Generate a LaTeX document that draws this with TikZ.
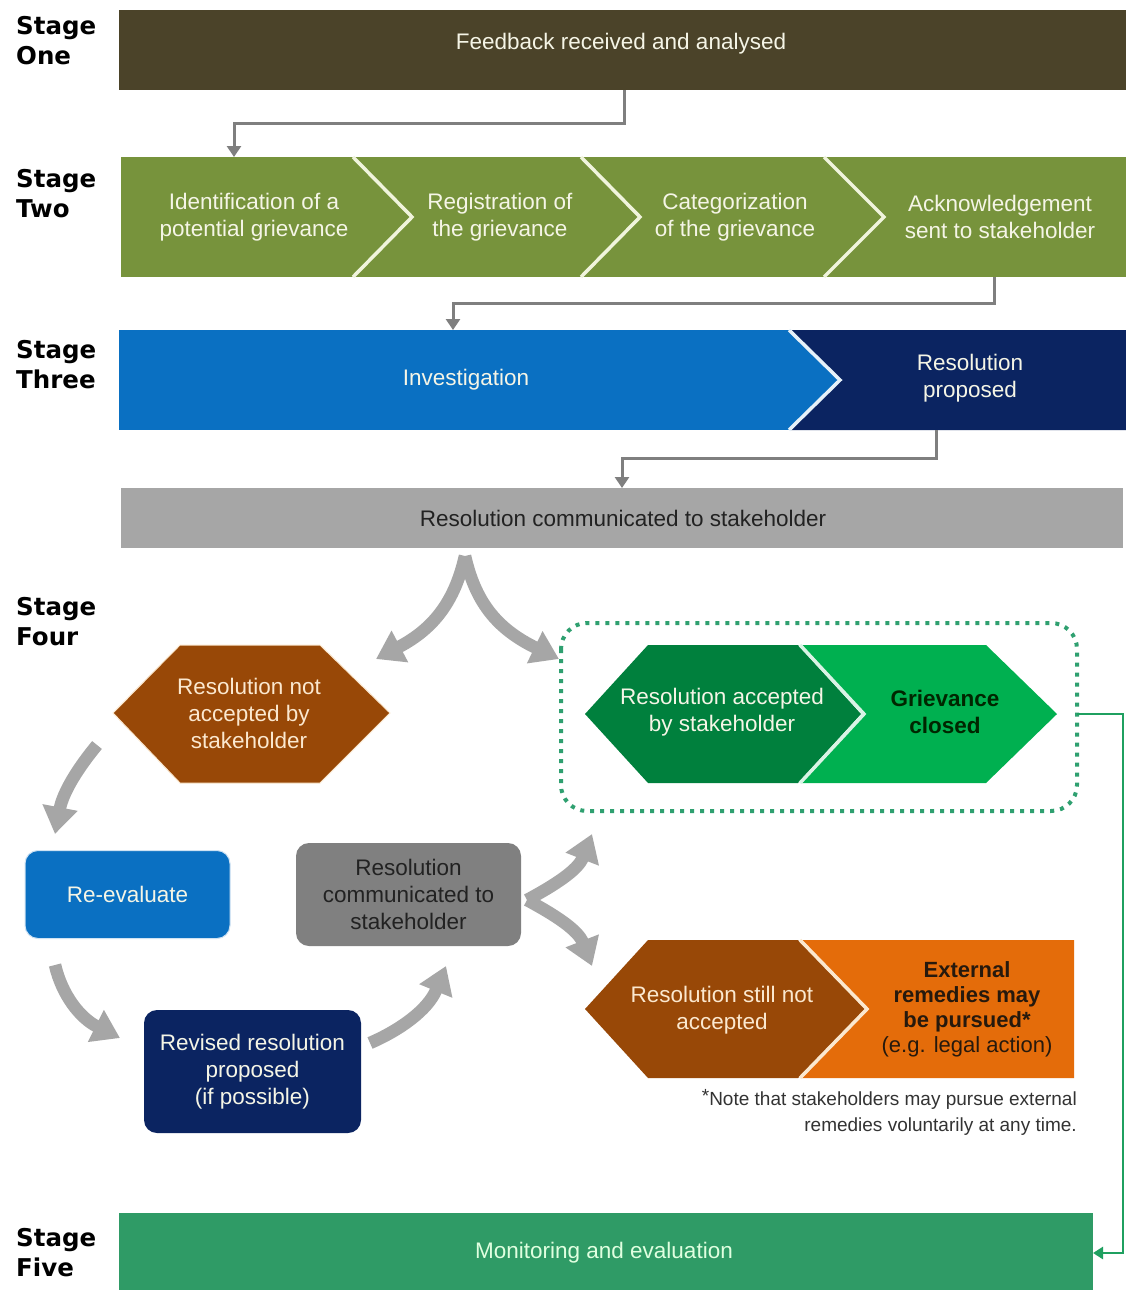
\documentclass[tikz,border=0pt]{standalone}
\usepackage{fontspec}
\setmainfont{Liberation Sans}
\newfontfamily\stagefont{DejaVu Sans}
\usetikzlibrary{arrows.meta}
\definecolor{cOne}{HTML}{4B4329}
\definecolor{cTwo}{HTML}{77933C}
\definecolor{cSepTwo}{HTML}{F0F4DC}
\definecolor{cBlue}{HTML}{0A70C2}
\definecolor{cNavy}{HTML}{0B2461}
\definecolor{cGrayBox}{HTML}{A6A6A6}
\definecolor{cGrayDark}{HTML}{808080}
\definecolor{cConn}{HTML}{7F7F7F}
\definecolor{cBlock}{HTML}{A6A6A6}
\definecolor{cBrown}{HTML}{984807}
\definecolor{cCream}{HTML}{FBE8CF}
\definecolor{cDkGreen}{HTML}{00803D}
\definecolor{cLtGreen}{HTML}{00B050}
\definecolor{cDot}{HTML}{2FA070}
\definecolor{cGreenLine}{HTML}{1FA060}
\definecolor{cOrange}{HTML}{E46C0A}
\definecolor{cFive}{HTML}{2F9B66}
\definecolor{cTxt}{HTML}{F5F5E6}
\definecolor{cDarkTxt}{HTML}{222222}
\begin{document}
\begin{tikzpicture}[x=1pt,y=-1pt,
  txt/.style={text=cTxt, font=\fontsize{22.5}{27}\selectfont, align=center, inner sep=0pt},
  dtxt/.style={txt, text=cDarkTxt},
  stagelbl/.style={font=\stagefont\fontsize{24.5}{30}\selectfont\bfseries, align=left, anchor=west, text=black, inner sep=0pt},
  band/.style={inner sep=0pt, outer sep=0pt},
  rbox/.style={inner sep=0pt, outer sep=0pt, rounded corners=13pt, align=center, font=\fontsize{22.5}{27}\selectfont},
  conn/.style={draw=cConn, line width=3pt, -{Triangle[width=14pt,length=11pt]}},
  blockarrow/.style={draw=cBlock, line width=12.5pt, -{Triangle[width=34pt,length=27pt]}},
  sepline/.style={line width=3.5pt, line join=miter}
]
\useasboundingbox (0,0) rectangle (1126,1290);
\fill[white] (0,0) rectangle (1126,1290);

% Stage labels
\node[stagelbl] (l1) at (16,41) {Stage\\One};
\node[stagelbl] (l2) at (16,194) {Stage\\Two};
\node[stagelbl] (l3) at (16,365) {Stage\\Three};
\node[stagelbl] (l4) at (16,622) {Stage\\Four};
\node[stagelbl] (l5) at (16,1253) {Stage\\Five};

% Stage one
\node[band, fill=cOne, minimum width=1007pt, minimum height=80pt] (s1) at (622.5,50) {};
\node[txt] (t1) at (621,44) {Feedback received and analysed};

% Stage two
\node[band, fill=cTwo, minimum width=1005pt, minimum height=120pt] (s2) at (623.5,217) {};
\draw[sepline, draw=cSepTwo] (353,157) -- (412,217) -- (353,277);
\draw[sepline, draw=cSepTwo] (581,157) -- (640,217) -- (581,277);
\draw[sepline, draw=cSepTwo] (824,157) -- (884,217) -- (824,277);
\node[txt] (t2a) at (254,217) {Identification of a\\potential grievance};
\node[txt] (t2b) at (500,217) {Registration of\\the grievance};
\node[txt] (t2c) at (735,217) {Categorization\\of the grievance};
\node[txt] (t2d) at (1000,217) {Acknowledgement\\sent to stakeholder};

\draw[conn] (s1.south -| 624,0) -- (624,123) -- (234,123) -- (s2.north -| 234,0);

% Stage three
\node[band, fill=cBlue, minimum width=1007pt, minimum height=100pt] (s3) at (622.5,380) {};
\fill[cNavy] (790,330) -- (1126,330) -- (1126,430) -- (790,430) -- (842,380) -- cycle;
\draw[sepline, draw=white!90!cBlue] (789,330) -- (840,380) -- (789,430);
\node[txt] (t3a) at (466,380) {Investigation};
\node[txt] (t3b) at (970,378) {Resolution\\proposed};

\draw[conn] (s2.south -| 994,0) -- (994,303) -- (453,303) -- (s3.north -| 453,0);

% Resolution communicated
\node[band, fill=cGrayBox, minimum width=1002pt, minimum height=60pt] (s4) at (622,518) {};
\node[dtxt] (t4) at (623,518) {Resolution communicated to stakeholder};
\draw[conn] (s3.south -| 936,0) -- (936,458) -- (622,458) -- (s4.north -| 622,0);

% Split arrows from s4
\coordinate (sp) at (465,556);
\draw[blockarrow] (sp) .. controls (455,600) and (435,628) .. (376,659);
\draw[blockarrow] (sp) .. controls (475,600) and (495,628) .. (559,659);

% Resolution not accepted hexagon
\fill[cBrown, draw=cCream, line width=1pt] (113,713) -- (180,645) -- (320,645) -- (390,713) -- (320,783) -- (180,783) -- cycle;
\node[txt, text=cCream] (rna) at (249,713) {Resolution not\\accepted by\\stakeholder};

% Accepted group
\draw[cDot, line width=4pt, dash pattern=on 4pt off 6pt, rounded corners=26pt] (561,623) rectangle (1077,811);
\fill[cDkGreen] (585,714) -- (648,645) -- (798,645) -- (861,714) -- (798,783) -- (648,783) -- cycle;
\fill[cLtGreen] (802,645) -- (986,645) -- (1057,714) -- (986,783) -- (802,783) -- (865,714) -- cycle;
\draw[sepline, draw=white!85!cLtGreen] (800,645) -- (864,714) -- (800,783);
\node[txt] (acc) at (722,712) {Resolution accepted\\by stakeholder};
\node[txt, text=black!85!green, font=\fontsize{22.5}{27}\selectfont\bfseries] (gc) at (945,712) {Grievance\\closed};

% Loop
\draw[blockarrow] (97,745) .. controls (78,768) and (63,792) .. (55,834);
\node[rbox, fill=cBlue, draw=white!80!cBlue, line width=1pt, text=cTxt, minimum width=205pt, minimum height=88pt] (re) at (127.5,894.5) {Re-evaluate};
\node[rbox, fill=cGrayDark, text=cDarkTxt, minimum width=225pt, minimum height=103pt] (rc) at (408.5,894.5) {Resolution\\communicated to\\stakeholder};
\node[rbox, fill=cNavy, text=cTxt, minimum width=217pt, minimum height=123pt] (rv) at (252.5,1071.5) {Revised resolution\\proposed\\(if possible)};
\draw[blockarrow] (55,965) .. controls (62,995) and (80,1018) .. (120,1038);
\draw[blockarrow] (370,1043) .. controls (400,1030) and (428,1010) .. (446,966);

% Split arrows from rc
\coordinate (sp2) at (527,900);
\draw[blockarrow] (sp2) .. controls (555,885) and (578,870) .. (592,834);
\draw[blockarrow] (sp2) .. controls (555,915) and (578,930) .. (592,966);

% Still not accepted
\fill[cBrown] (585,1009) -- (648,940) -- (798,940) -- (865,1009) -- (798,1078) -- (648,1078) -- cycle;
\fill[cOrange] (802,940) -- (1074,940) -- (1074,1078) -- (802,1078) -- (869,1009) -- cycle;
\draw[sepline, draw=cCream] (800,940) -- (867,1009) -- (800,1078);
\node[txt, text=cCream] (sna) at (722,1010) {Resolution still not\\accepted};
\node[txt, text=black!80!brown, font=\fontsize{22}{25}\selectfont] (ext) at (967,1009) {\textbf{External}\\\textbf{remedies may}\\\textbf{be pursued*}\\(e.g. legal action)};
\node[align=right, anchor=north east, inner sep=0pt, text=black!80, font=\fontsize{19}{26}\selectfont] (note) at (1077,1089) {\raisebox{0.35ex}{*}Note that stakeholders may pursue external\\remedies voluntarily at any time.};

% Stage five
\node[band, fill=cFive, minimum width=974pt, minimum height=77pt] (s5) at (606,1251.5) {};
\node[txt, text=white!88!green] (t5) at (604,1253) {Monitoring and evaluation};

\draw[draw=cGreenLine, line width=2.5pt, -{Triangle[width=12pt,length=10pt]}] (1077,714) -- (1123,714) -- (1123,1253) -- (s5.east |- 0,1253);
\end{tikzpicture}
\end{document}
